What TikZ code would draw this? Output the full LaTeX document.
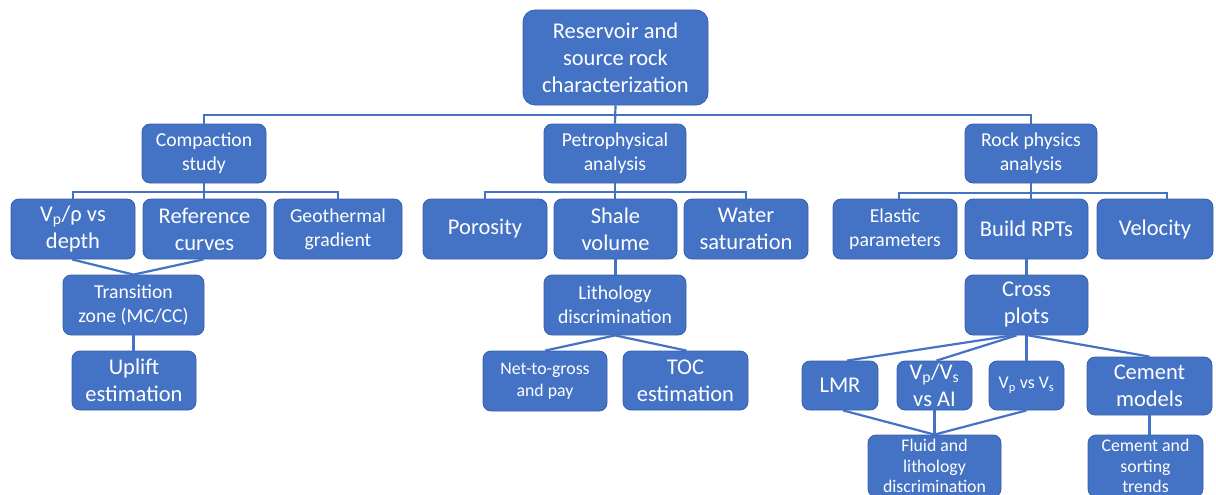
\documentclass[tikz,border=0pt]{standalone}
\usepackage{fontspec}
\setmainfont{Carlito}
\newcommand{\lsub}[1]{\textsubscript{#1}}
\definecolor{boxblue}{HTML}{4472C4}
\definecolor{edgeblue}{HTML}{3660AE}
\begin{document}
\begin{tikzpicture}[x=1pt,y=-1pt,
  bx/.style={fill=boxblue,draw=edgeblue,line width=0.8pt,rounded corners=8pt,text=white,align=center,inner sep=0pt},
  fl/.style={font=\fontsize{22.5}{27}\selectfont},
  fm/.style={font=\fontsize{19.7}{24}\selectfont},
  fs/.style={font=\fontsize{17.8}{21.7}\selectfont},
  fst/.style={font=\fontsize{17.8}{20.5}\selectfont},
  con/.style={draw=boxblue,line width=2.2pt}]
\useasboundingbox (0,0) rectangle (1216,495);
\begin{scope}
\clip (0,0) rectangle (1216,495);
% nodes
\node[bx,fl,minimum width=185pt,minimum height=95pt,rounded corners=12pt] (root) at (615.5,57.5) {Reservoir and\\source rock\\characterization};
\node[bx,fm,minimum width=124pt,minimum height=59pt] (comp) at (204,153.5) {Compaction\\study};
\node[bx,fm,minimum width=142pt,minimum height=59pt] (petro) at (615,153.5) {Petrophysical\\analysis};
\node[bx,fm,minimum width=132pt,minimum height=59pt] (rock) at (1031,153.5) {Rock physics\\analysis};
\node[bx,fl,minimum width=124pt,minimum height=60pt] (vprho) at (73,229) {V\lsub{p}/ρ vs\\depth};
\node[bx,fl,minimum width=123pt,minimum height=60pt] (ref) at (204.5,229) {Reference\\curves};
\node[bx,fm,minimum width=128pt,minimum height=60pt] (geo) at (338,229) {Geothermal\\gradient};
\node[bx,fl,minimum width=124pt,minimum height=60pt] (por) at (485,229) {Porosity};
\node[bx,fl,minimum width=123pt,minimum height=60pt] (shale) at (615.5,229) {Shale\\volume};
\node[bx,fl,minimum width=124pt,minimum height=60pt] (water) at (746,229) {Water\\saturation};
\node[bx,fm,minimum width=124pt,minimum height=60pt] (elastic) at (895,229) {Elastic\\parameters};
\node[bx,fl,minimum width=123pt,minimum height=60pt] (rpt) at (1026.5,229) {Build RPTs};
\node[bx,fl,minimum width=116pt,minimum height=60pt] (vel) at (1155,229) {Velocity};
\node[bx,fm,minimum width=141pt,minimum height=60pt] (trans) at (133.5,305) {Transition\\zone (MC/CC)};
\node[bx,fl,minimum width=124pt,minimum height=59pt] (uplift) at (134,380.5) {Uplift\\estimation};
\node[bx,fm,minimum width=142pt,minimum height=60pt] (litho) at (615,305) {Lithology\\discrimination};
\node[bx,fs,minimum width=124pt,minimum height=60pt] (ntg) at (545,381) {Net-to-gross\\and pay};
\node[bx,fl,minimum width=125pt,minimum height=59pt] (toc) at (685.5,380.5) {TOC\\estimation};
\node[bx,fl,minimum width=123pt,minimum height=60pt] (cross) at (1026.5,305) {Cross\\plots};
\node[bx,fl,minimum width=76pt,minimum height=49pt] (lmr) at (840,385.5) {LMR};
\node[bx,fl,minimum width=75pt,minimum height=49pt] (vpvs) at (934.5,385.5) {V\lsub{p}/V\lsub{s}\\vs AI};
\node[bx,fs,minimum width=75pt,minimum height=49pt] (vpvsvs) at (1026.5,385.5) {V\lsub{p} vs V\lsub{s}};
\node[bx,fl,minimum width=125pt,minimum height=58pt] (cem) at (1149.5,386) {Cement\\models};
\node[bx,fst,minimum width=133pt,minimum height=62pt] (fluid) at (934.5,466) {Fluid and\\lithology\\discrimination};
\node[bx,fst,minimum width=115pt,minimum height=62pt] (cst) at (1145.5,466) {Cement and\\sorting\\trends};
% connectors
\draw[con] (root.south) -- (petro.north);
\draw[con] (comp.north) -- ++(0,-9) -| (rock.north);
\draw[con] (comp.south) -- (comp.south|-ref.north);
\draw[con] (vprho.north) -- ++(0,-7) -| (geo.north);
\draw[con] (petro.south) -- (petro.south|-shale.north);
\draw[con] (por.north) -- ++(0,-7) -| (water.north);
\draw[con] (rock.south) -- (rock.south|-rpt.north);
\draw[con] ([xshift=4pt]elastic.north) -- ++(0,-6) -| ([xshift=12pt]vel.north);
\draw[con] ([xshift=-1pt]vprho.south) -- (trans.north);
\draw[con] ([xshift=-1pt]ref.south) -- (trans.north);
\draw[con] (trans.south) -- (trans.south|-uplift.north);
\draw[con] (shale.south) -- (shale.south|-litho.north);
\draw[con] (litho.south) -- (ntg.north);
\draw[con] (litho.south) -- ([xshift=1pt]toc.north);
\draw[con] (rpt.south) -- (cross.north);
\draw[con] ([xshift=-14pt]cross.south) -- ([xshift=7pt]lmr.north);
\draw[con] ([xshift=-10pt]cross.south) -- ([xshift=2pt]vpvs.north);
\draw[con] (cross.south) -- (vpvsvs.north);
\draw[con] ([xshift=2pt]cross.south) -- (cem.north);
\draw[con] ([xshift=3pt]lmr.south) -- (fluid.north);
\draw[con] (vpvs.south) -- (fluid.north);
\draw[con] (vpvsvs.south) -- (fluid.north);
\draw[con] (cem.south) -- (cem.south|-cst.north);
\end{scope}
\end{tikzpicture}
\end{document}
